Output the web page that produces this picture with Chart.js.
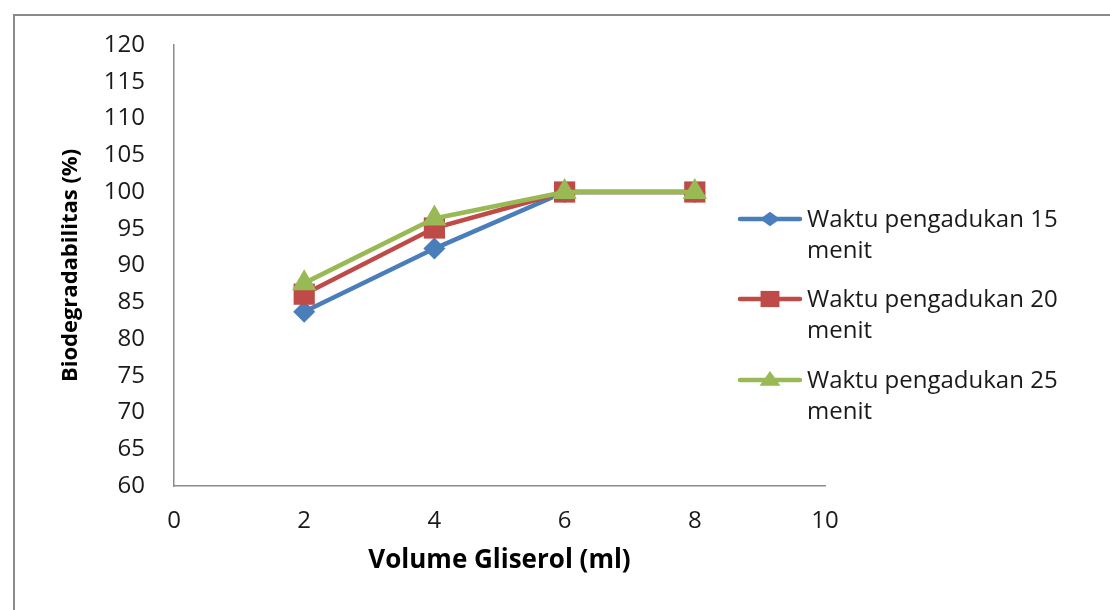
<!DOCTYPE html>
<html>
<head>
<meta charset="utf-8">
<script src="https://cdn.jsdelivr.net/npm/chart.js@4/dist/chart.umd.min.js"></script>
<style>
  body { margin: 0; background: #fff; }
  #wrap { width: 1110px; height: 610px; }
</style>
</head>
<body>
<div id="wrap"><canvas id="chart-1" width="1110" height="610"></canvas></div>
<script>
const xValues = [2, 4, 6, 8];
const series15 = [83.7, 92.3, 100, 100];
const series20 = [86.1, 95.1, 100, 100];
const series25 = [87.6, 96.4, 100, 100];
const seriesNames = [
  ["Waktu pengadukan 15", "menit"],
  ["Waktu pengadukan 20", "menit"],
  ["Waktu pengadukan 25", "menit"],
];
const xTitle = "Volume Gliserol (ml)";
const yTitle = "Biodegradabilitas (%)";

const font = "'Open Sans', 'DejaVu Sans', sans-serif";

function toPoints(values) {
  return xValues.map((x, i) => ({ x: x, y: values[i] }));
}

// gray frame round the picture
const framePlugin = {
  id: "frame",
  beforeDraw(chart) {
    const ctx = chart.ctx;
    ctx.save();
    ctx.strokeStyle = "#8a8a8a";
    ctx.lineWidth = 2;
    ctx.beginPath();
    ctx.moveTo(14, 610);
    ctx.lineTo(14, 15);
    ctx.lineTo(1110, 15);
    ctx.stroke();
    ctx.restore();
  },
};

function drawShape(ctx, style, x, y, r) {
  if (style === "rectRot") {
    ctx.moveTo(x - r, y);
    ctx.lineTo(x, y - r * 0.72);
    ctx.lineTo(x + r, y);
    ctx.lineTo(x, y + r * 0.72);
  } else if (style === "rect") {
    ctx.rect(x - r * 1.05, y - r * 0.9, 2.1 * r, 1.8 * r);
  } else {
    ctx.moveTo(x, y - r * 0.95);
    ctx.lineTo(x + r * 1.1, y + r * 0.6);
    ctx.lineTo(x - r * 1.1, y + r * 0.6);
  }
  ctx.closePath();
}

// legend on the right, two text lines per entry
const sideLegend = {
  id: "sideLegend",
  afterDraw(chart) {
    const ctx = chart.ctx;
    const rows = [219, 299, 380];
    const radii = [10, 9, 9.5];
    ctx.save();
    chart.data.datasets.forEach((ds, i) => {
      const y = rows[i];
      ctx.strokeStyle = ds.borderColor;
      ctx.lineWidth = 4.5;
      ctx.lineCap = "round";
      ctx.beginPath();
      ctx.moveTo(740, y);
      ctx.lineTo(800, y);
      ctx.stroke();
      ctx.fillStyle = ds.backgroundColor;
      ctx.beginPath();
      drawShape(ctx, ds.pointStyle, 770, y, radii[i]);
      ctx.fill();
      ctx.fillStyle = "#1a1a1a";
      ctx.font = "24px " + font;
      ctx.textBaseline = "middle";
      ctx.textAlign = "left";
      ctx.fillText(seriesNames[i][0], 807, y + 1);
      ctx.fillText(seriesNames[i][1], 807, y + 32);
    });
    ctx.restore();
  },
};

const data_1 = {
  datasets: [
    {
      label: seriesNames[0].join(" "),
      data: toPoints(series15),
      borderColor: "#4a7ebb",
      backgroundColor: "#4a7ebb",
      pointStyle: "rectRot",
      pointRadius: 11,
      order: 3,
    },
    {
      label: seriesNames[1].join(" "),
      data: toPoints(series20),
      borderColor: "#be4b48",
      backgroundColor: "#be4b48",
      pointStyle: "rect",
      pointRadius: 15,
      order: 2,
    },
    {
      label: seriesNames[2].join(" "),
      data: toPoints(series25),
      borderColor: "#98b954",
      backgroundColor: "#98b954",
      pointStyle: "triangle",
      pointRadius: 14,
      order: 1,
    },
  ],
};

new Chart(document.getElementById("chart-1"), {
  type: "line",
  data: data_1,
  options: {
    responsive: false,
    animation: false,
    events: [],
    layout: { padding: { top: 45, right: 285, left: 0, bottom: 0 } },
    elements: {
      line: { borderWidth: 4.5, tension: 0 },
      point: { borderWidth: 0, hoverRadius: 0 },
    },
    plugins: {
      legend: { display: false },
      tooltip: { enabled: false },
    },
    scales: {
      x: {
        type: "linear",
        min: 0,
        max: 10,
        afterFit: (scale) => { scale.height = 124; },
        ticks: {
          stepSize: 2,
          padding: 21,
          color: "#1a1a1a",
          font: { family: font, size: 24, lineHeight: 1.2 },
        },
        grid: { display: false, drawTicks: false },
        border: { display: true, color: "#8c8c8c", width: 1.5 },
        title: {
          display: true,
          text: xTitle,
          color: "#000",
          padding: { top: 0, bottom: 34 },
          font: { family: font, size: 26, weight: "bold", lineHeight: 1.2 },
        },
      },
      y: {
        min: 60,
        max: 120,
        afterFit: (scale) => { scale.width = 174; },
        ticks: {
          stepSize: 5,
          padding: 29,
          color: "#1a1a1a",
          font: { family: font, size: 24, lineHeight: 1.2 },
        },
        grid: { display: false, drawTicks: false },
        border: { display: true, color: "#8c8c8c", width: 1.5 },
        title: {
          display: true,
          text: yTitle,
          color: "#000",
          padding: { top: 58, bottom: 0 },
          font: { family: font, size: 22, weight: "bold", lineHeight: 1.2 },
        },
      },
    },
  },
  plugins: [framePlugin, sideLegend],
});
</script>
</body>
</html>
